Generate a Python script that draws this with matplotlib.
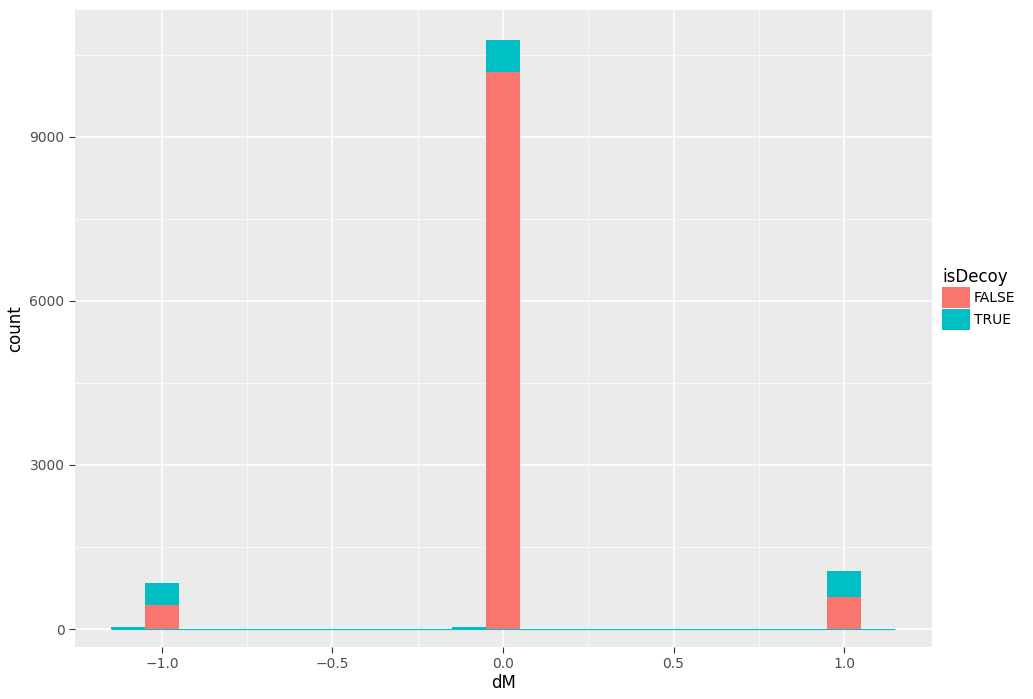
import numpy as np
import matplotlib.pyplot as plt
from matplotlib.patches import Patch

centers = np.round(np.arange(-1.1, 1.101, 0.1), 2)
false_counts = np.zeros(len(centers))
true_counts = np.zeros(len(centers))
# non-zero bins
false_vals = {-1.0: 439, 0.0: 10190, 1.0: 585}
true_vals = {-1.1: 30, -1.0: 402, -0.1: 30, 0.0: 584, 1.0: 476}
for k, v in false_vals.items():
    false_counts[np.argmin(abs(centers - k))] = v
for k, v in true_vals.items():
    true_counts[np.argmin(abs(centers - k))] = v

red, teal = '#F8766D', '#00BFC4'
fig = plt.figure(figsize=(10.33, 6.99), dpi=100)
ax = fig.add_axes([75/1033, 52/699, 857/1033, 637/699])
ax.set_facecolor('#EBEBEB')
ax.bar(centers, false_counts, width=0.1, color=red, zorder=3)
ax.bar(centers, true_counts, width=0.1, bottom=false_counts, color=teal, zorder=3)
ax.hlines(0, -1.15, 1.15, color=teal, lw=0.8, zorder=2)
ax.set_xlim(-1.255, 1.258)
ax.set_ylim(-329, 11322)
ax.set_xticks([-1.0, -0.5, 0.0, 0.5, 1.0])
ax.set_xticklabels(['\u22121.0', '\u22120.5', '0.0', '0.5', '1.0'])
ax.set_yticks([0, 3000, 6000, 9000])
ax.set_xticks([-0.75, -0.25, 0.25, 0.75], minor=True)
ax.set_yticks([1500, 4500, 7500, 10500], minor=True)
ax.grid(True, which='major', color='white', lw=1.1, zorder=0)
ax.grid(True, which='minor', color='white', lw=0.5, zorder=0)
ax.set_axisbelow(True)
for s in ax.spines.values():
    s.set_visible(False)
ax.tick_params(which='major', color='#333333', length=4, labelsize=10, labelcolor='#4D4D4D')
ax.tick_params(which='minor', length=0)
ax.set_xlabel('dM', fontsize=12, labelpad=2)
ax.set_ylabel('count', fontsize=12)
handles = [Patch(facecolor=red, label='FALSE'), Patch(facecolor=teal, label='TRUE')]
leg = fig.legend(handles=handles, title='isDecoy', loc='upper left', bbox_to_anchor=(942/1033, 1-268/699),
                 frameon=False, fontsize=10, title_fontsize=12, handlelength=2.0, handleheight=2.0,
                 handletextpad=0.3, borderaxespad=0, borderpad=0, labelspacing=0.05)
leg._legend_box.align = 'left'
plt.savefig('out.png', dpi=100)
